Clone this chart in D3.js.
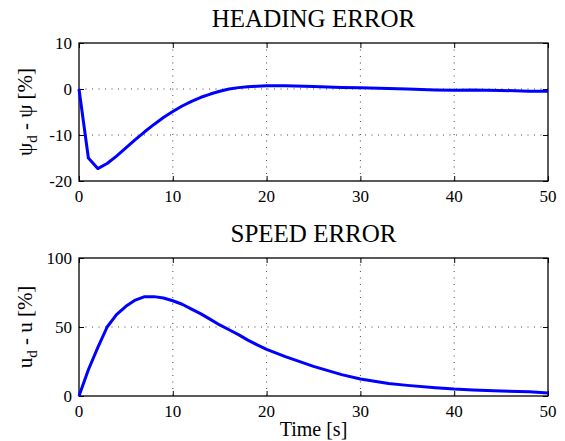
<!DOCTYPE html>
<html>
<head>
<meta charset="utf-8">
<script src="https://cdn.jsdelivr.net/npm/d3@7"></script>
<style>
  body { margin: 0; background: #fff; }
  text { font-family: 'Liberation Serif', 'DejaVu Serif', serif; }
</style>
</head>
<body>
<div id="chart"></div>
<script>
// time samples (s)
const timeSteps = [0,1,2,3,4,5,6,7,8,9,10,11,12,13,14,15,16,17,18,19,20,22,25,28,30,33,35,38,40,42,45,48,50];
// heading error psi_d - psi (%)
const headingError = [0,-15.0,-17.3,-16.2,-14.6,-12.8,-11.0,-9.3,-7.7,-6.2,-4.9,-3.7,-2.7,-1.8,-1.1,-0.5,0.0,0.3,0.5,0.6,0.7,0.7,0.55,0.35,0.25,0.1,0.0,-0.2,-0.25,-0.2,-0.3,-0.5,-0.5];
// speed error u_d - u (%)
const speedError = [0,19,35,50,59,65,69.5,72,72,71,69,66.5,63,59.5,55.5,51.5,48,44.5,40.5,37,33.8,28.5,21.5,15.5,12.3,9,7.7,6,5,4.4,3.6,3,2.2];

const xTicks = [0,10,20,30,40,50];
const headingTicks = [-20,-10,0,10];
const speedTicks = [0,50,100];

const width = 565, height = 441;
const left = 79, right = 548;

const svg = d3.select('#chart').append('svg')
    .attr('width', width)
    .attr('height', height)
    .attr('font-family', "'Liberation Serif', 'DejaVu Serif', serif");

const x = d3.scaleLinear().domain([0, 50]).range([left, right]);

function drawPanel(opts){
    const y = d3.scaleLinear().domain(opts.yDomain).range([opts.bottom, opts.top]);
    const g = svg.append('g');

    // dotted grid
    g.selectAll('.vgrid').data(xTicks.slice(1, -1)).enter().append('line')
        .attr('x1', d => x(d)).attr('x2', d => x(d))
        .attr('y1', opts.top).attr('y2', opts.bottom)
        .attr('stroke', '#444').attr('stroke-width', 1)
        .attr('stroke-dasharray', '1,5.5');
    g.selectAll('.hgrid').data(opts.yTicks.slice(1, -1)).enter().append('line')
        .attr('x1', left).attr('x2', right)
        .attr('y1', d => y(d)).attr('y2', d => y(d))
        .attr('stroke', '#444').attr('stroke-width', 1)
        .attr('stroke-dasharray', '1,5.5');

    // axes, ticks pointing inward like matlab
    const tickLen = 5;
    g.append('g').attr('transform', `translate(0,${opts.bottom})`)
        .call(d3.axisTop(x).tickValues(xTicks).tickSize(tickLen).tickFormat(''));
    g.append('g').attr('transform', `translate(0,${opts.top})`)
        .call(d3.axisBottom(x).tickValues(xTicks).tickSize(tickLen).tickFormat(''));
    g.append('g').attr('transform', `translate(${left},0)`)
        .call(d3.axisRight(y).tickValues(opts.yTicks).tickSize(tickLen).tickFormat(''));
    g.append('g').attr('transform', `translate(${right},0)`)
        .call(d3.axisLeft(y).tickValues(opts.yTicks).tickSize(tickLen).tickFormat(''));
    g.selectAll('.domain').remove();
    g.selectAll('.tick line').attr('stroke', '#000');

    g.append('rect')
        .attr('x', left).attr('y', opts.top)
        .attr('width', right - left).attr('height', opts.bottom - opts.top)
        .attr('fill', 'none').attr('stroke', '#000').attr('stroke-width', 1.3);

    // tick labels
    g.selectAll('.xlab').data(xTicks).enter().append('text')
        .attr('x', d => x(d)).attr('y', opts.bottom + 21)
        .attr('text-anchor', 'middle').attr('font-size', 17)
        .text(d => d);
    g.selectAll('.ylab').data(opts.yTicks).enter().append('text')
        .attr('x', left - 7).attr('y', d => y(d) + 6)
        .attr('text-anchor', 'end').attr('font-size', 17)
        .text(d => d);

    // the curve
    const line = d3.line()
        .x((d, i) => x(timeSteps[i]))
        .y(d => y(d));
    g.append('path')
        .datum(opts.values)
        .attr('d', line)
        .attr('fill', 'none')
        .attr('stroke', '#0000ff')
        .attr('stroke-width', 3)
        .attr('stroke-linejoin', 'round');

    g.append('text')
        .attr('x', (left + right) / 2).attr('y', opts.top - 16)
        .attr('text-anchor', 'middle').attr('font-size', 25)
        .text(opts.title);

    const yl = g.append('text')
        .attr('transform', `translate(32,${(opts.top + opts.bottom) / 2}) rotate(-90)`)
        .attr('text-anchor', 'middle').attr('font-size', 21);
    yl.append('tspan').text(opts.sym);
    yl.append('tspan').attr('font-size', 15).attr('dy', 5).text('d');
    yl.append('tspan').attr('dy', -5).text(` - ${opts.sym} [%]`);
}

drawPanel({title: 'HEADING ERROR', sym: 'ψ', values: headingError,
    yDomain: [-20, 10], yTicks: headingTicks, top: 43, bottom: 181});
drawPanel({title: 'SPEED ERROR', sym: 'u', values: speedError,
    yDomain: [0, 100], yTicks: speedTicks, top: 258, bottom: 396});

svg.append('text')
    .attr('x', (left + right) / 2).attr('y', 436)
    .attr('text-anchor', 'middle').attr('font-size', 20)
    .text('Time [s]');
</script>
</body>
</html>
